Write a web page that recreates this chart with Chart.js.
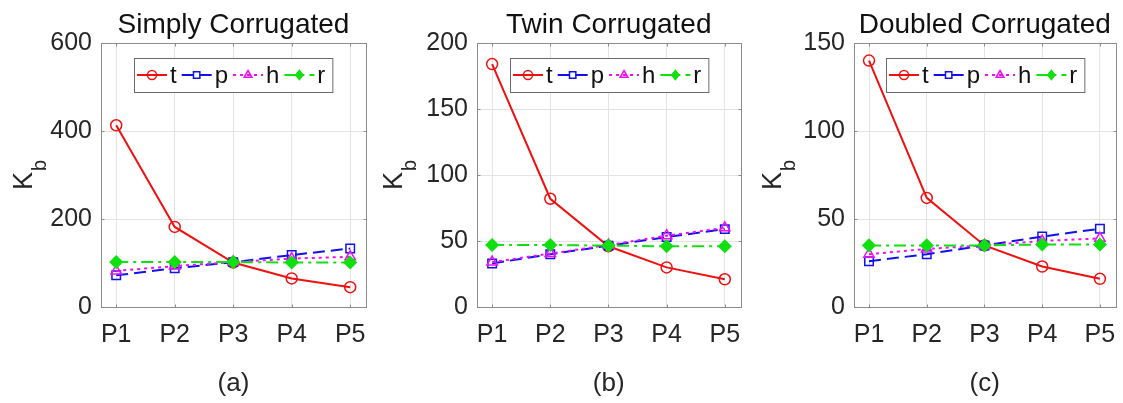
<!DOCTYPE html>
<html><head><meta charset="utf-8">
<script src="https://cdn.jsdelivr.net/npm/chart.js@4/dist/chart.umd.min.js"></script>
<style>
html,body{margin:0;padding:0;background:#fff;width:1123px;height:403px;overflow:hidden}
.p{position:absolute;top:0;height:403px}
canvas{display:block}
</style></head><body>
<div class="p" style="left:0;width:374px"><canvas id="c0" width="374" height="403"></canvas></div>
<div class="p" style="left:374px;width:374px"><canvas id="c1" width="374" height="403"></canvas></div>
<div class="p" style="left:749px;width:374px"><canvas id="c2" width="374" height="403"></canvas></div>
<script>
// ---- data ----
const categories = ['P1','P2','P3','P4','P5'];
const seriesLabels = ['t','p','h','r'];
const panelTitles = ['Simply Corrugated','Twin Corrugated','Doubled Corrugated'];
const panelTags = ['(a)','(b)','(c)'];
const yAxisLabelMain = 'K';
const yAxisLabelSub = 'b';

const simplyT = [413, 182, 101, 65, 45];
const simplyP = [72, 88, 102, 118, 133];
const simplyH = [82, 93, 102, 110, 114];
const simplyR = [102, 102, 102, 101, 101];

const twinT = [184, 82, 46, 30, 21];
const twinP = [33, 40, 46.5, 53, 59];
const twinH = [34, 40.5, 47, 54, 60];
const twinR = [47, 47, 46.5, 46, 46];

const doubledT = [140, 62, 35, 23, 16];
const doubledP = [26, 30, 35, 40, 44.5];
const doubledH = [30, 33, 35, 37.5, 39];
const doubledR = [35, 35, 35, 35.5, 35.5];

const simplyYTicks = [0, 200, 400, 600];
const twinYTicks = [0, 50, 100, 150, 200];
const doubledYTicks = [0, 50, 100, 150];

// ---- styles ----
const FONT = 'Arial, "Liberation Sans", Helvetica, sans-serif';
const TEXT = '#262626';
const seriesStyles = [
  {color:'#f01010', dash:[], point:'circle', radius:5.5, filled:false},
  {color:'#1010f0', dash:[12,6], point:'rect', radius:6, filled:false},
  {color:'#f010f0', dash:[3,4], point:'triangle', radius:6, filled:false},
  {color:'#10e010', dash:[12,5,3,5], point:'rectRot', radius:6, filled:true}
];
const panels = [
  {values:[simplyT,simplyP,simplyH,simplyR], ticks:simplyYTicks, pl:41, pr:8, ylab:88},
  {values:[twinT,twinP,twinH,twinR], ticks:twinYTicks, pl:43, pr:6, ylab:94},
  {values:[doubledT,doubledP,doubledH,doubledR], ticks:doubledYTicks, pl:45, pr:5, ylab:92}
];

function marker(ctx, st, x, y, r) {
  ctx.save();
  ctx.setLineDash([]);
  ctx.lineWidth = 1.5;
  ctx.strokeStyle = st.color;
  ctx.fillStyle = st.color;
  ctx.beginPath();
  if (st.point === 'circle') ctx.arc(x, y, r, 0, Math.PI*2);
  else if (st.point === 'rect') { const s = r*Math.SQRT1_2; ctx.rect(x-s, y-s, 2*s, 2*s); }
  else if (st.point === 'triangle') { ctx.moveTo(x, y-r); ctx.lineTo(x+r*0.87, y+r*0.5); ctx.lineTo(x-r*0.87, y+r*0.5); ctx.closePath(); }
  else { ctx.moveTo(x, y-r); ctx.lineTo(x+r*0.8, y); ctx.lineTo(x, y+r); ctx.lineTo(x-r*0.8, y); ctx.closePath(); }
  if (st.filled) ctx.fill();
  ctx.stroke();
  ctx.restore();
}

function decorPlugin(idx) {
  return {
    id: 'decor' + idx,
    afterDraw(chart) {
      const ctx = chart.ctx, ca = chart.chartArea;
      const cx = (ca.left + ca.right) / 2;
      ctx.save();
      // box + inward ticks
      ctx.strokeStyle = '#8c8c8c';
      ctx.lineWidth = 1;
      const L = Math.round(ca.left)+0.5, T = Math.round(ca.top)+0.5, R = Math.round(ca.right)+0.5, B = Math.round(ca.bottom)+0.5;
      ctx.strokeRect(L, T, R-L, B-T);
      ctx.beginPath();
      chart.scales.x.ticks.forEach(t => {
        const px = Math.round(chart.scales.x.getPixelForValue(t.value)) + 0.5;
        ctx.moveTo(px, B); ctx.lineTo(px, B-3);
        ctx.moveTo(px, T); ctx.lineTo(px, T+3);
      });
      chart.scales.y.ticks.forEach(t => {
        const py = Math.round(chart.scales.y.getPixelForValue(t.value)) + 0.5;
        ctx.moveTo(L, py); ctx.lineTo(L+3, py);
        ctx.moveTo(R, py); ctx.lineTo(R-3, py);
      });
      ctx.stroke();
      // title
      ctx.fillStyle = '#111';
      ctx.font = '28px ' + FONT;
      ctx.textAlign = 'center';
      ctx.textBaseline = 'alphabetic';
      ctx.fillText(panelTitles[idx], cx, 33);
      // tag
      ctx.font = '26px ' + FONT;
      ctx.fillStyle = TEXT;
      ctx.textBaseline = 'middle';
      ctx.fillText(panelTags[idx], cx, 384);
      // y label K_b
      const cy = (ca.top + ca.bottom) / 2;
      const bx = ca.left - panels[idx].ylab + 19;
      ctx.translate(bx, cy);
      ctx.rotate(-Math.PI/2);
      ctx.textBaseline = 'alphabetic';
      ctx.textAlign = 'left';
      ctx.font = '27px ' + FONT;
      const kw = ctx.measureText(yAxisLabelMain).width;
      ctx.font = '20px ' + FONT;
      const bw = ctx.measureText(yAxisLabelSub).width;
      const tot = kw + bw + 1;
      ctx.font = '27px ' + FONT;
      ctx.fillText(yAxisLabelMain, -tot/2, 0);
      ctx.font = '20px ' + FONT;
      ctx.fillText(yAxisLabelSub, -tot/2 + kw + 1, 14);
      ctx.restore();
      // legend
      ctx.save();
      ctx.font = '24px ' + FONT;
      const sampleW = 30, gap = 3, after = 5, padL = 3, padR = 2;
      const items = chart.data.datasets.map((ds, i) => ({ds, st: seriesStyles[i], tw: ctx.measureText(ds.label).width}));
      let total = padL + padR;
      items.forEach(it => { total += sampleW + gap + it.tw + after; });
      const lx = Math.round(cx - total/2), ly = Math.round(ca.top + 15), lh = 34;
      ctx.fillStyle = '#fff';
      ctx.fillRect(lx, ly, total, lh);
      ctx.strokeStyle = '#6a6a6a';
      ctx.lineWidth = 1;
      ctx.strokeRect(lx+0.5, ly+0.5, total, lh);
      let x = lx + padL;
      const my = ly + lh/2;
      items.forEach(it => {
        ctx.strokeStyle = it.st.color;
        ctx.lineWidth = 2;
        ctx.setLineDash(it.st.dash);
        ctx.beginPath(); ctx.moveTo(x, my); ctx.lineTo(x + sampleW, my); ctx.stroke();
        ctx.setLineDash([]);
        marker(ctx, it.st, x + sampleW/2, my, 4.5);
        ctx.fillStyle = '#111';
        ctx.textAlign = 'left';
        ctx.textBaseline = 'middle';
        ctx.fillText(it.ds.label, x + sampleW + gap, my + 1);
        x += sampleW + gap + it.tw + after;
      });
      ctx.restore();
    }
  };
}

panels.forEach((pn, idx) => {
  const datasets = seriesLabels.map((lab, i) => {
    const st = seriesStyles[i];
    return {
      label: lab,
      data: pn.values[i].map((v, k) => ({x: k + 1, y: v})),
      borderColor: st.color,
      borderWidth: 2,
      borderDash: st.dash,
      pointStyle: st.point,
      pointRadius: st.radius,
      pointBorderWidth: 1.5,
      pointBorderColor: st.color,
      pointBackgroundColor: st.filled ? st.color : 'rgba(0,0,0,0)',
      tension: 0,
      fill: false,
      order: 3 - i
    };
  });
  const yt = pn.ticks;
  new Chart(document.getElementById('c' + idx), {
    type: 'line',
    data: {datasets},
    options: {
      responsive: false,
      animation: false,
      events: [],
      layout: {padding: {left: pn.pl, right: pn.pr, top: 43, bottom: 56}},
      plugins: {legend: {display: false}, tooltip: {enabled: false}, title: {display: false}},
      scales: {
        x: {
          type: 'linear', min: 0.74, max: 5.27,
          afterBuildTicks: s => { s.ticks = categories.map((c, k) => ({value: k + 1})); },
          afterFit: s => { s.height = 40; s.paddingLeft = 0; s.paddingRight = 0; },
          ticks: {callback: v => categories[Math.round(v) - 1] || '', color: TEXT, font: {size: 25, family: FONT}, padding: 13, maxRotation: 0, autoSkip: false},
          grid: {color: '#e3e3e3', drawTicks: false},
          border: {display: false}
        },
        y: {
          type: 'linear', min: yt[0], max: yt[yt.length - 1],
          afterBuildTicks: s => { s.ticks = yt.map(v => ({value: v})); },
          afterFit: s => { s.width = 60; },
          ticks: {color: TEXT, font: {size: 25, family: FONT}, padding: 9},
          grid: {color: '#e3e3e3', drawTicks: false},
          border: {display: false}
        }
      }
    },
    plugins: [decorPlugin(idx)]
  });
});
</script>
</body></html>
